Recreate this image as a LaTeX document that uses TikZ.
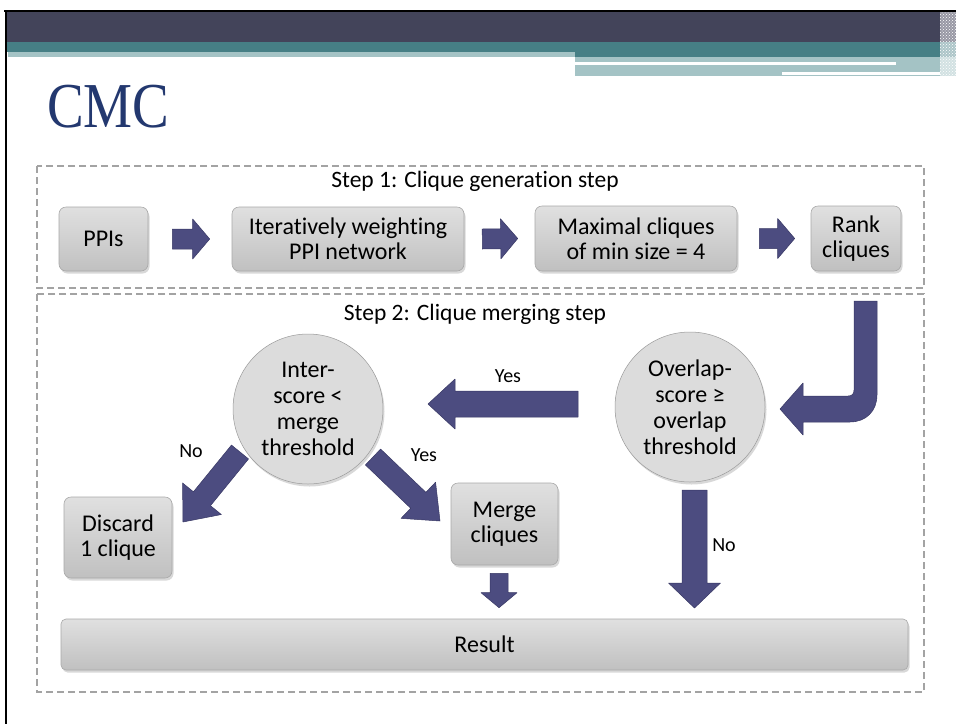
\documentclass[tikz,border=0pt]{standalone}
\usepackage{fontspec}
\setmainfont{Carlito}[Ligatures=NoCommon]
\newfontfamily\titlefont{Liberation Serif}
\usetikzlibrary{calc,shadows,patterns}

\definecolor{hdrdark}{HTML}{43445A}
\definecolor{hdrteal}{HTML}{467F85}
\definecolor{hdrlight}{HTML}{A4C3C5}
\definecolor{titleblue}{HTML}{23386F}
\definecolor{boxtop}{HTML}{E0E0E0}
\definecolor{boxbot}{HTML}{C0C0C0}
\definecolor{boxedge}{HTML}{A9A9A9}
\definecolor{arrowfill}{HTML}{4C4C80}
\definecolor{arrowedge}{HTML}{383864}
\definecolor{dashgray}{HTML}{A3A3A3}
\definecolor{circin}{HTML}{DCDCDC}
\definecolor{circout}{HTML}{B6B6B6}

\pgfdeclareradialshading{discshade}{\pgfpointorigin}{color(0bp)=(circin); color(34bp)=(circin); color(50bp)=(circout)}

\tikzset{
  stepframe/.style={draw=dashgray, line width=1.1pt, dash pattern=on 7pt off 4pt},
  procbox/.style={rectangle, rounded corners=7pt, draw=boxedge, line width=0.6pt,
    top color=boxtop, bottom color=boxbot,
    drop shadow={shadow xshift=1.5pt, shadow yshift=-2.5pt, opacity=0.3},
    align=center, inner sep=0pt, font=\fontsize{24}{25}\selectfont},
  decision/.style={circle, draw=circout!85!black, line width=0.5pt, shading=discshade,
    drop shadow={shadow xshift=1.5pt, shadow yshift=-2.5pt, opacity=0.3},
    minimum size=150pt, inner sep=0pt, align=center, font=\fontsize{24}{26}\selectfont},
  blockarrow/.style={fill=arrowfill, draw=arrowedge, line width=0.5pt, line join=round},
  steplabel/.style={font=\fontsize{23.5}{25}\selectfont},
  answer/.style={font=\fontsize{20}{22}\selectfont}
}

% straight block arrow: tail, tip, shaft half-width, head half-width, head length
\newcommand\blockarrow[5]{%
  \coordinate (hb) at ($(#2)!#5!(#1)$);
  \path[blockarrow] ($(#1)!#3!90:(#2)$) -- ($(hb)!#3!90:(#2)$) -- ($(hb)!#4!90:(#2)$)
    -- (#2) -- ($(hb)!#4!-90:(#2)$) -- ($(hb)!#3!-90:(#2)$) -- ($(#1)!#3!-90:(#2)$) -- cycle;
}

\begin{document}
\begin{tikzpicture}[x=1pt,y=-1pt]
\useasboundingbox (0,0) rectangle (956,724);
\fill[white] (0,0) rectangle (956,724);

% slide header bands
\fill[hdrdark] (6,12) rectangle (940,42);
\fill[hdrteal] (6,42) rectangle (940,52);
\fill[hdrteal] (575,52) rectangle (940,57);
\fill[hdrlight] (8,52) rectangle (575,57);
\fill[hdrlight] (575,57) rectangle (956,76);
\fill[white] (575,62) rectangle (896,64.5);
\fill[white] (782,72) rectangle (948,75);
\fill[hdrdark!55!white] (940,12) rectangle (956,42);
\fill[hdrteal!45!white] (940,42) rectangle (956,57);
\fill[hdrlight!50!white] (940,57) rectangle (956,76);
\fill[pattern=crosshatch dots, pattern color=white] (940,12) rectangle (956,76);
\draw[line width=2.5pt] (4,11) -- (956,11);
\draw[line width=2pt] (6,10) -- (6,724);

% title
\node[anchor=base west, inner sep=0pt, text=titleblue,
      font=\titlefont\fontsize{64}{64}\selectfont] (title) at (47,127) {\scalebox{0.86}[1]{CMC}};

% step frames
\draw[stepframe] (37,166) rectangle (924,288);
\draw[stepframe] (37,294) rectangle (924,692);
\node[steplabel] (s1) at (475,181) {Step 1: Clique generation step};
\node[steplabel] (s2) at (475,314) {Step 2: Clique merging step};

% step 1 boxes
\node[procbox, minimum width=89pt, minimum height=64pt] (ppi) at (103.5,239) {PPIs};
\node[procbox, minimum width=232pt, minimum height=64pt] (iter) at (348,239) {Iteratively weighting\\PPI network};
\node[procbox, minimum width=202pt, minimum height=65pt] (maxc) at (636,238.5) {Maximal cliques\\of min size = 4};
\node[procbox, minimum width=90pt, minimum height=65pt] (rank) at (856,238.5) {Rank\\cliques};

% step 2 nodes
\node[decision] (inter) at (308,409) {Inter-\\score <\\merge\\threshold};
\node[decision] (over) at (690,407) {Overlap-\\score ≥\\overlap\\threshold};
\node[procbox, minimum width=108pt, minimum height=81pt] (disc) at (118,537.5) {Discard\\1 clique};
\node[procbox, minimum width=107pt, minimum height=82pt] (merge) at (504.5,524) {Merge\\cliques};
\node[procbox, rounded corners=5pt, minimum width=847pt, minimum height=51pt] (res) at (484.5,644.5) {Result};

% step 1 arrows
\blockarrow{$(ppi.east)+(24,0)$}{$(iter.west)+(-22,0)$}{10pt}{20pt}{17pt}
\blockarrow{$(iter.east)+(18,0)$}{$(maxc.west)+(-17,0)$}{10pt}{20pt}{17pt}
\blockarrow{$(maxc.east)+(22,0)$}{$(rank.west)+(-16,0)$}{10pt}{20pt}{17pt}

% bent arrow from the ranked cliques into step 2
\coordinate (jtop) at (865.5,301);
\coordinate (jtip) at (780,409);
\path[blockarrow] ($(jtop)+(-11.5,0)$) -- ($(jtop)+(11.5,0)$)
  -- (877,395) .. controls (877,411) and (866,422) .. (850,422)
  -- (803,422) -- (803,435) -- (jtip) -- (803,383) -- (803,396)
  -- (848,396) .. controls (852,396) and (854,394) .. (854,390) -- cycle;

% step 2 arrows
\coordinate (yesA) at (578,404);
\coordinate (yesB) at (428,404);
\blockarrow{yesA}{yesB}{13pt}{25pt}{27pt}
\node[answer] (yes1) at (508,376) {Yes};

\coordinate (noA) at (240,452);
\coordinate (noB) at (183,522);
\blockarrow{noA}{noB}{11pt}{25pt}{30pt}
\node[answer] (no1) at (191,451) {No};

\coordinate (yes2A) at (373,457);
\coordinate (yes2B) at (440,521);
\blockarrow{yes2A}{yes2B}{11pt}{25pt}{30pt}
\node[answer] (yes2) at (424,455) {Yes};

\blockarrow{$(merge.south)+(-5.5,8)$}{$(res.north -| merge.south)+(-5.5,-11)$}{9pt}{18pt}{15pt}

\coordinate (noC) at (694.5,490);
\coordinate (noD) at (694.5,608);
\blockarrow{noC}{noD}{12.5pt}{26pt}{25pt}
\node[answer] (no2) at (724,545) {No};
\end{tikzpicture}
\end{document}
